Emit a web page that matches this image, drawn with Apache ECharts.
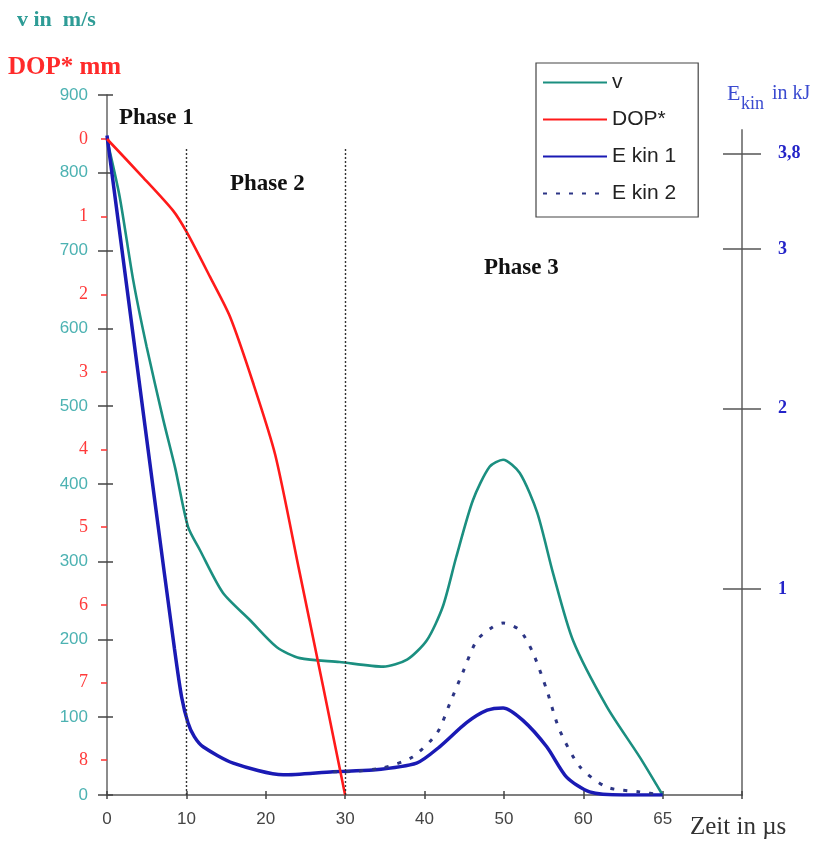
<!DOCTYPE html>
<html lang="de">
<head>
    <meta charset="UTF-8">
    <title>v, DOP* und Ekin über der Zeit</title>
    <script src="https://cdn.jsdelivr.net/npm/echarts@6/dist/echarts.min.js"></script>
    <style>
        body { margin: 0; background: #fff; }
        #chart { width: 829px; height: 843px; }
    </style>
</head>
<body>
    <div id="chart"></div>
    <script>
        // Zeitachse: Positionen auf der Achse (nach 60 ist die Achse gestaucht, Position 70 = "65 µs")
        var xTickLabels = ['0', '10', '20', '30', '40', '50', '60', '65', ''];
        var phaseBounds = [10, 30];

        // Geschwindigkeit v in m/s
        var tV = [0, 1.6, 3.3, 5.0, 7.1, 8.6, 10.2, 11.7, 14.6, 18, 21.4, 24.3, 29.3, 34.8, 37.8, 40.3, 42.3, 44, 46.1, 48.2, 49.9, 52, 54.2, 56.2, 58.7, 63, 67.1, 70];
        var vVals = [843, 769, 662, 576, 482, 420, 345, 315, 260, 225, 190, 176, 171, 165, 174, 199, 242, 306, 379, 422, 431, 414, 363, 285, 199, 113, 49, 0];

        // Eindringtiefe DOP* in mm
        var tDop = [0, 4.5, 8.3, 10.1, 13, 15.5, 18.4, 21.2, 24.2, 27.2, 30];
        var dopVals = [0, 0.49, 0.92, 1.21, 1.78, 2.29, 3.14, 4.07, 5.55, 7.04, 8.45];
        var dopTicks = [0, 1, 2, 3, 4, 5, 6, 7, 8];

        // kinetische Energie, in Skalenposition der rechten Achse
        var tE1 = [0, 3, 6, 8.5, 9.4, 10.2, 11, 12.1, 15.9, 22.2, 28.5, 33.5, 39, 41.9, 45.3, 47.9, 49.9, 52.4, 55.4, 57.9, 60.8, 65, 70];
        var e1Vals = [848, 614, 380, 188, 126, 93, 75, 62, 41, 26, 30, 32, 41, 62, 93, 109, 112, 96, 62, 23, 4, 0, 0];
        var tE2 = [28.5, 30, 34.8, 38.5, 41.6, 43.2, 44.8, 46.6, 48.6, 49.9, 52, 53.7, 55.4, 57, 59.6, 63, 67.1, 70];
        var e2Vals = [30, 30, 35, 49, 80, 118, 157, 199, 216, 221, 212, 182, 135, 84, 36, 10, 4, 0];
        var ekinTickPos = [265, 497, 702, 825];
        var ekinTickLabels = ['1', '2', '3', '3,8'];

        function pairs(xs, ys) {
            return xs.map(function (x, i) { return [x, ys[i]]; });
        }

        var chart = echarts.init(document.getElementById('chart'));

        var serif = '"Liberation Serif", "DejaVu Serif", serif';
        var sans = '"Liberation Sans", Arial, sans-serif';
        var tickStyle = { color: '#444', width: 1.5 };
        var off = { show: false };
        var lineOff = { show: false, onZero: false };

        function grid(l, r, t, b) {
            return { left: l, right: r, top: t, bottom: b, outerBoundsMode: 'none' };
        }
        function hiddenX(g) {
            return { type: 'value', gridIndex: g, min: 0, max: 80, show: false, axisLine: lineOff };
        }

        var option = {
            animation: false,
            grid: [
                grid(107, 87, 95, 48),   // v + Zeitachse
                grid(107, 87, 139, 48),  // DOP*
                grid(107, 87, 130, 48),  // Ekin-Achse
                grid(107, 106, 130, 48), // Ekin-Querstriche
                grid(113, 87, 95, 48),   // v-Querstriche
                grid(107, 87, 91, 52)    // Zeit-Querstriche
            ],
            xAxis: [
                {
                    type: 'value', gridIndex: 0, min: 0, max: 80, interval: 10,
                    axisLine: { show: true, onZero: false, lineStyle: { color: '#555', width: 1.5 } },
                    axisTick: { show: true, length: 4, lineStyle: tickStyle },
                    splitLine: off,
                    axisLabel: {
                        margin: 16, color: '#444', fontSize: 17, fontFamily: sans,
                        formatter: function (v) { return xTickLabels[Math.round(v / 10)]; }
                    }
                },
                hiddenX(1), hiddenX(2), hiddenX(3), hiddenX(4),
                {
                    type: 'value', gridIndex: 5, min: 0, max: 80, interval: 10,
                    axisLine: lineOff, axisLabel: off, splitLine: off,
                    axisTick: { show: true, length: 4, lineStyle: tickStyle }
                }
            ],
            yAxis: [
                {
                    type: 'value', gridIndex: 0, position: 'left', min: 0, max: 900, interval: 100,
                    axisLine: { show: true, onZero: false, lineStyle: { color: '#666', width: 1.5 } },
                    axisTick: off, splitLine: off,
                    axisLabel: { margin: 19, color: '#4cb2b2', fontSize: 17, fontFamily: sans }
                },
                {
                    type: 'value', gridIndex: 1, position: 'left', inverse: true, min: 0, max: 8.45,
                    axisLine: lineOff, splitLine: off,
                    axisTick: { show: true, length: 6, customValues: dopTicks, lineStyle: { color: '#ff3030', width: 1.5 } },
                    axisLabel: { margin: 19, color: '#ff3a3a', fontSize: 18, fontFamily: serif, customValues: dopTicks }
                },
                {
                    type: 'value', gridIndex: 2, position: 'right', min: 0, max: 855,
                    axisLine: { show: true, onZero: false, lineStyle: { color: '#888', width: 2 } },
                    axisTick: off, splitLine: off,
                    axisLabel: {
                        margin: 36, color: '#2424c8', fontSize: 18, fontWeight: 'bold', fontFamily: serif,
                        customValues: ekinTickPos, padding: [16, 0, 0, 0],
                        formatter: function (v) { return ekinTickLabels[ekinTickPos.indexOf(v)]; }
                    }
                },
                {
                    type: 'value', gridIndex: 3, position: 'right', min: 0, max: 855,
                    axisLine: lineOff, axisLabel: off, splitLine: off,
                    axisTick: { show: true, length: 38, customValues: ekinTickPos, lineStyle: { color: '#555', width: 1.5 } }
                },
                {
                    type: 'value', gridIndex: 4, position: 'left', min: 0, max: 900, interval: 100,
                    axisLine: lineOff, axisLabel: off, splitLine: off,
                    axisTick: { show: true, length: 15, lineStyle: tickStyle }
                },
                { type: 'value', gridIndex: 5, min: 0, max: 900, show: false, axisLine: lineOff }
            ],
            legend: {
                data: ['v', 'DOP*', 'E kin 1', 'E kin 2'],
                orient: 'vertical',
                left: 536, top: 63,
                padding: [9, 22, 13, 6],
                itemWidth: 64, itemHeight: 14, itemGap: 16,
                borderColor: '#444', borderWidth: 1.2,
                itemStyle: { opacity: 0 },
                textStyle: { fontSize: 21, color: '#222', fontFamily: sans }
            },
            series: [
                {
                    name: 'v', type: 'line', xAxisIndex: 0, yAxisIndex: 0,
                    data: pairs(tV, vVals), smooth: 0.25, symbol: 'none',
                    lineStyle: { color: '#1b8f80', width: 2.6 }, itemStyle: { color: '#1b8f80' },
                    markLine: {
                        silent: true, symbol: 'none', label: { show: false },
                        lineStyle: { type: [2, 2], color: '#333', width: 1.4 },
                        data: phaseBounds.map(function (t) { return [{ coord: [t, 0] }, { coord: [t, 832] }]; })
                    }
                },
                {
                    name: 'E kin 1', type: 'line', xAxisIndex: 2, yAxisIndex: 2,
                    data: pairs(tE1, e1Vals), smooth: 0.25, symbol: 'none',
                    lineStyle: { color: '#1a1ab4', width: 3.5 }, itemStyle: { color: '#1a1ab4' }
                },
                {
                    name: 'E kin 2', type: 'line', xAxisIndex: 2, yAxisIndex: 2,
                    data: pairs(tE2, e2Vals), smooth: 0.25, symbol: 'none',
                    lineStyle: { color: '#2c3585', width: 3, type: [4, 9] }, itemStyle: { color: '#2c3585' }
                },
                {
                    name: 'DOP*', type: 'line', xAxisIndex: 1, yAxisIndex: 1,
                    data: pairs(tDop, dopVals), smooth: 0.25, symbol: 'none',
                    lineStyle: { color: '#ff1a1a', width: 2.6 }, itemStyle: { color: '#ff1a1a' }
                }
            ],
            graphic: [
                { type: 'text', x: 17, y: 20, style: { text: 'v in  m/s', fill: '#2e9c96', font: 'bold 22px ' + serif, verticalAlign: 'middle' } },
                { type: 'text', x: 8, y: 68, style: { text: 'DOP* mm', fill: '#ff2a2a', font: 'bold 25px ' + serif, verticalAlign: 'middle' } },
                { type: 'text', x: 119, y: 118, style: { text: 'Phase 1', fill: '#111', font: 'bold 23px ' + serif, verticalAlign: 'middle' } },
                { type: 'text', x: 230, y: 184, style: { text: 'Phase 2', fill: '#111', font: 'bold 23px ' + serif, verticalAlign: 'middle' } },
                { type: 'text', x: 484, y: 268, style: { text: 'Phase 3', fill: '#111', font: 'bold 23px ' + serif, verticalAlign: 'middle' } },
                { type: 'text', x: 727, y: 94, style: { text: 'E', fill: '#3a4ad0', font: '22px ' + serif, verticalAlign: 'middle' } },
                { type: 'text', x: 741, y: 104, style: { text: 'kin', fill: '#3a4ad0', font: '18px ' + serif, verticalAlign: 'middle' } },
                { type: 'text', x: 772, y: 94, style: { text: 'in kJ', fill: '#3a4ad0', font: '20px ' + serif, verticalAlign: 'middle' } },
                { type: 'text', x: 690, y: 827, style: { text: 'Zeit in µs', fill: '#333', font: '25px ' + serif, verticalAlign: 'middle' } }
            ]
        };

        chart.setOption(option);
    </script>
</body>
</html>
